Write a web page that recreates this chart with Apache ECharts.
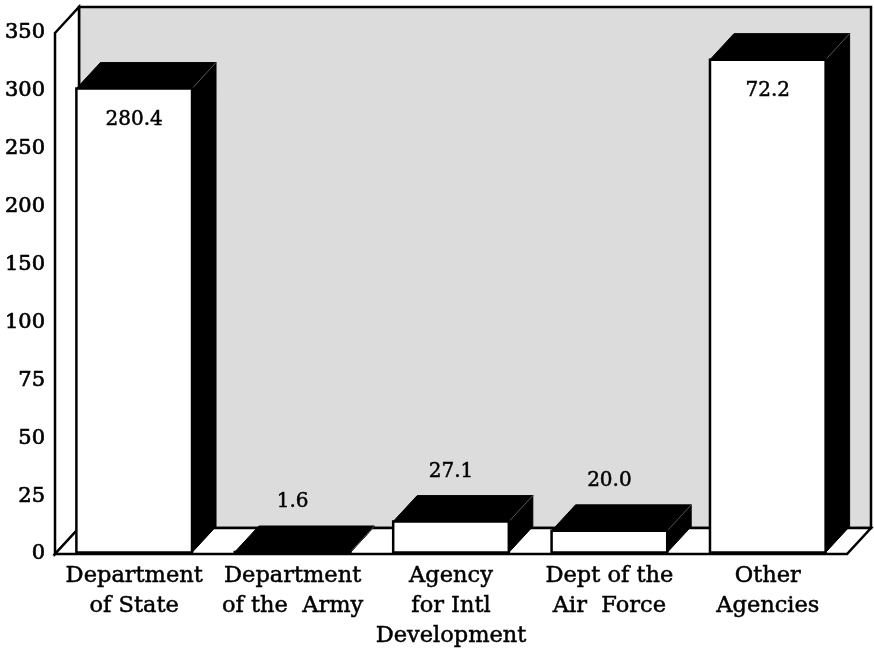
<!DOCTYPE html>
<html>
<head>
<meta charset="utf-8">
<script src="https://cdn.jsdelivr.net/npm/echarts@6/dist/echarts.min.js"></script>
<style>html,body{margin:0;padding:0;background:#fff;}#c{width:874px;height:651px;}</style>
</head>
<body>
<div id="c"></div>
<script>
// ---- data ----
var categories = ['Department\nof State', 'Department\nof the  Army', 'Agency\nfor Intl\nDevelopment', 'Dept of the\nAir  Force', 'Other\nAgencies'];
// bar heights as read against the (uneven) value axis
var barHeights = [302, 0.4, 14, 10, 327];
// printed value labels
var valueLabels = ['280.4', '1.6', '27.1', '20.0', '72.2'];
// tick labels of the axis (evenly spaced on the page)
var yTicks = [0, 25, 50, 75, 100, 150, 200, 250, 300, 350];

// map an axis value to its tick-position index (piecewise linear)
function toIdx(v) {
  for (var i = 1; i < yTicks.length; i++) {
    if (v <= yTicks[i]) {
      return (i - 1) + (v - yTicks[i - 1]) / (yTicks[i] - yTicks[i - 1]);
    }
  }
  return yTicks.length - 1;
}

var DX = 24, DY = 26;
var FONT = 'DejaVu Serif';

var chart = echarts.init(document.getElementById('c'), null, {renderer: 'canvas'});

var barData = barHeights.map(function (h, i) { return [i, toIdx(h), valueLabels[i]]; });

function renderWalls(params, api) {
  var cs = params.coordSys;
  var x0 = cs.x, x1 = cs.x + cs.width, yT = cs.y, yB = cs.y + cs.height;
  var st = {stroke: '#000', lineWidth: 2.5, lineJoin: 'miter'};
  return {
    type: 'group',
    children: [
      {type: 'rect', shape: {x: x0 + DX, y: yT - DY, width: cs.width, height: cs.height},
        style: echarts.util.extend({fill: '#dcdcdc'}, st)},
      {type: 'polygon', shape: {points: [[x0, yT], [x0 + DX, yT - DY], [x0 + DX, yB - DY], [x0, yB]]},
        style: echarts.util.extend({fill: '#fff'}, st)},
      {type: 'polygon', shape: {points: [[x0, yB], [x0 + DX, yB - DY], [x1 + DX, yB - DY], [x1, yB]]},
        style: echarts.util.extend({fill: '#fff'}, st)}
    ]
  };
}

function renderBar(params, api) {
  var i = api.value(0), v = api.value(1);
  var base = api.coord([i, 0]);
  var top = api.coord([i, v]);
  var w = api.size([1, 0])[0] * 0.73;
  var xl = base[0] - w / 2, xr = base[0] + w / 2;
  var yb = base[1] - 1.5, yt = Math.min(top[1], yb - 0.5);
  var h = yb - yt;
  var lbl = valueLabels[params.dataIndex];
  var tall = h > 100;
  var children = [
    {type: 'polygon', shape: {points: [[xr, yt], [xr + DX, yt - DY], [xr + DX, yb - DY], [xr, yb]]},
      style: {fill: '#000', stroke: '#000', lineWidth: 1}},
    {type: 'polygon', shape: {points: [[xl, yt], [xl + DX, yt - DY], [xr + DX, yt - DY], [xr, yt]]},
      style: {fill: '#000', stroke: '#000', lineWidth: 1}},
    {type: 'line', shape: {x1: xr, y1: yt, x2: xr + DX, y2: yt - DY},
      style: {stroke: '#555', lineWidth: 1}},
    {type: 'rect', shape: {x: xl, y: yt, width: w, height: h},
      style: {fill: '#fff', stroke: '#000', lineWidth: 2.5}},
    {type: 'text', x: base[0], y: tall ? yt + 31 : yt - 50,
      style: {text: lbl, fill: '#000', font: '20px "' + FONT + '"', align: 'center', verticalAlign: 'middle',
        stroke: '#000', lineWidth: 0.5}}
  ];
  return {type: 'group', children: children};
}

chart.setOption({
  animation: false,
  backgroundColor: '#fff',
  grid: {left: 55, right: 27, top: 33, bottom: 95, containLabel: false},
  xAxis: {
    type: 'category', data: categories,
    axisLine: {show: false}, axisTick: {show: false}, splitLine: {show: false},
    axisLabel: {interval: 0, margin: 7, color: '#000', fontFamily: FONT, fontSize: 22.5, lineHeight: 30,
      textBorderColor: '#000', textBorderWidth: 0.5}
  },
  yAxis: {
    type: 'value', min: 0, max: yTicks.length - 1, interval: 1,
    axisLine: {show: true, lineStyle: {color: '#000', width: 2.5}},
    axisTick: {show: false}, splitLine: {show: false},
    axisLabel: {margin: 10, color: '#000', fontFamily: FONT, fontSize: 21,
      textBorderColor: '#000', textBorderWidth: 0.7,
      formatter: function (val) { return String(yTicks[Math.round(val)]); }}
  },
  series: [
    {type: 'custom', renderItem: renderWalls, data: [[0, 0]], z: 1, silent: true, clip: false},
    {type: 'custom', renderItem: renderBar, data: barData, z: 3, clip: false,
      encode: {x: 0, y: 1}}
  ]
});
</script>
</body>
</html>
